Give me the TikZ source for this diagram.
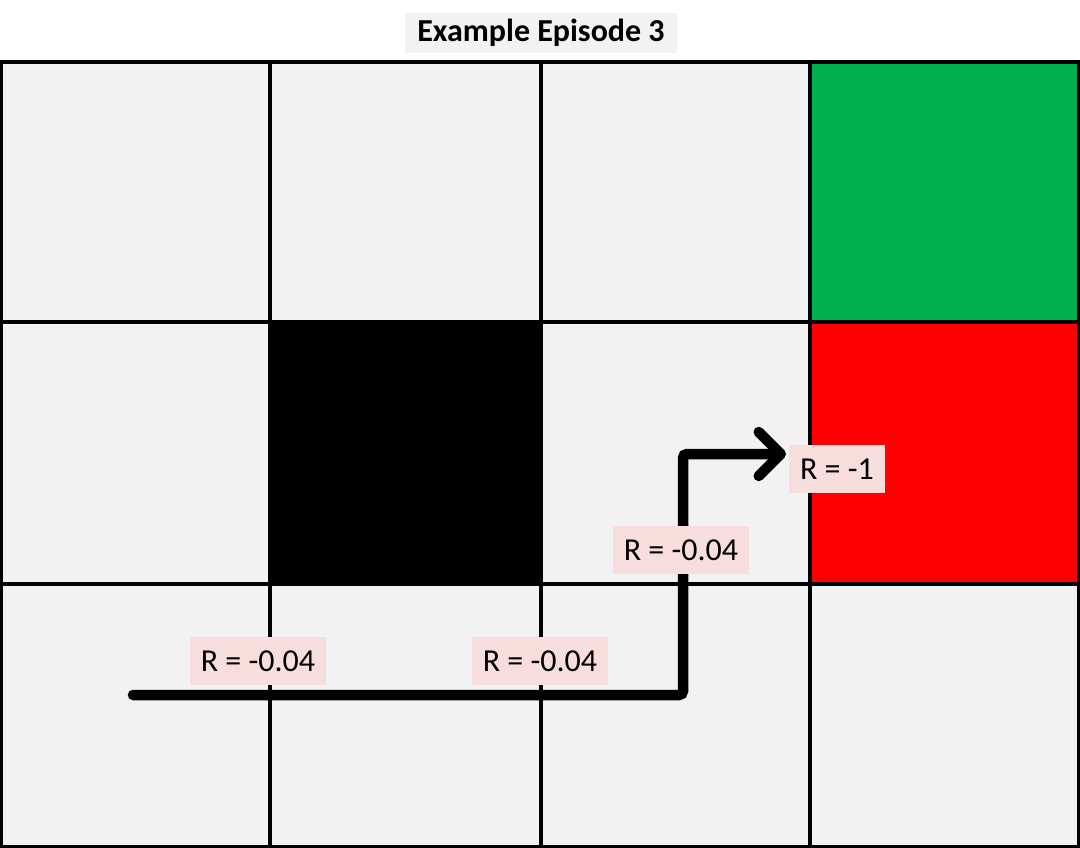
\documentclass[tikz,border=0pt]{standalone}
\usepackage{fontspec}
\setmainfont{Carlito}
\usetikzlibrary{arrows.meta}
\definecolor{cellgray}{RGB}{242,242,242}
\definecolor{goalgreen}{RGB}{0,176,80}
\definecolor{pitred}{RGB}{255,0,0}
\definecolor{labelpink}{RGB}{248,221,221}
\tikzset{
  cell/.style={fill=cellgray},
  gridline/.style={line width=3.2pt},
  rlabel/.style={fill=labelpink, inner xsep=11pt, inner ysep=0pt, minimum height=48pt, font=\fontsize{32}{38}\selectfont},
  titlebox/.style={fill=cellgray, inner xsep=12pt, inner ysep=0pt, minimum height=40pt, font=\fontsize{32}{38}\selectfont\bfseries},
  agentpath/.style={line width=10.5pt, rounded corners=4pt, line cap=round, -{Straight Barb[length=22pt,width=44pt,line cap=round,line join=round]}}
}
\begin{document}
\begin{tikzpicture}[x=1pt,y=-1pt]
\useasboundingbox (0,0) rectangle (1080,848);
% cells
\fill[cellgray] (1.5,62) rectangle (1078.5,846.5);
\fill[goalgreen] (810,62) rectangle (1078.5,322);
\fill[pitred] (810,322) rectangle (1078.5,584);
\fill[black] (270,322) rectangle (541,584);
% grid
\draw[gridline] (1.5,62) rectangle (1078.5,846.5);
\draw[gridline] (270,62) -- (270,846.5);
\draw[gridline] (541,62) -- (541,846.5);
\draw[gridline] (810,62) -- (810,846.5);
\draw[gridline] (1.5,322) -- (1078.5,322);
\draw[gridline] (1.5,584) -- (1078.5,584);
% title
\node[titlebox] (title) at (541,33) {Example Episode 3};
% path
\coordinate (start) at (133,695);
\coordinate (turn1) at (683,695);
\coordinate (turn2) at (683,454);
\coordinate (goal) at (786,454);
\draw[agentpath] (start) -- (turn1) -- (turn2) -- (goal);
% labels
\node[rlabel] (r1) at (258,661) {R = -0.04};
\node[rlabel] (r2) at (540,661) {R = -0.04};
\node[rlabel] (r3) at (681,550) {R = -0.04};
\node[rlabel] (r4) at (837,469) {R = -1};
\end{tikzpicture}
\end{document}
